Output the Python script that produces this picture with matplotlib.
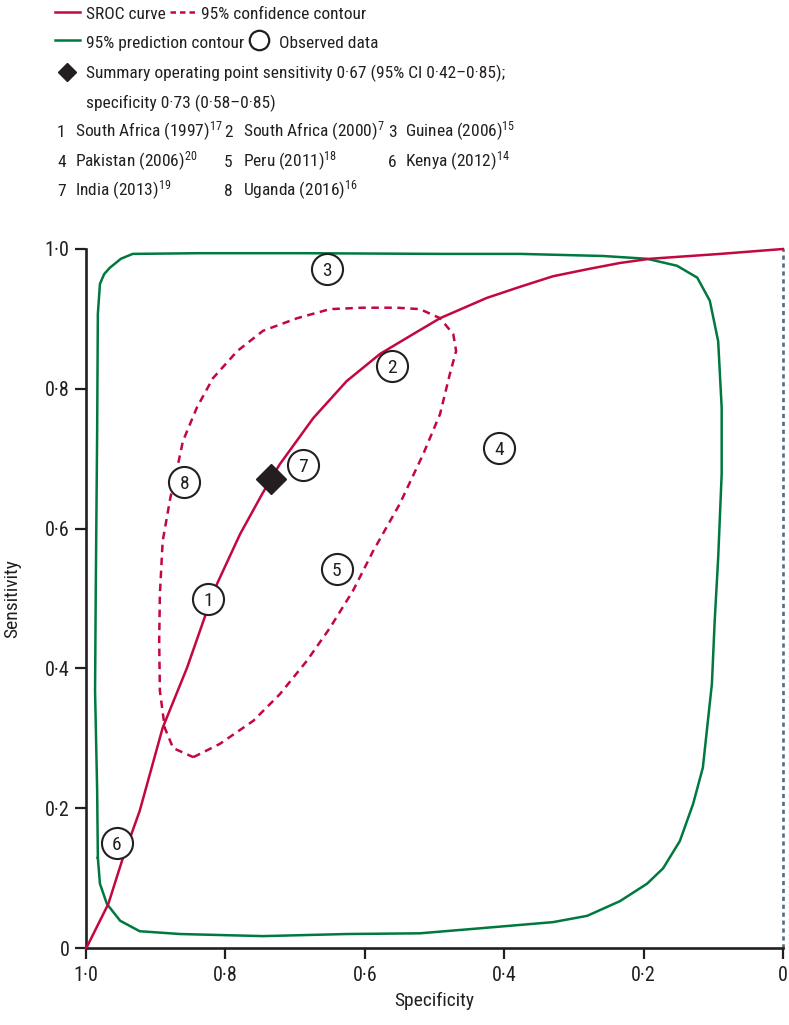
# -*- coding: utf-8 -*-
"""
SROC curve with 95% confidence and prediction contours
"""
import matplotlib
matplotlib.use("Agg")
import matplotlib.pyplot as plt
from matplotlib import font_manager
from matplotlib.lines import Line2D

# pick the narrowest installed family
names = {f.name for f in font_manager.fontManager.ttflist}
condensed = {f.name for f in font_manager.fontManager.ttflist
             if "condensed" in str(f.stretch) or "narrow" in f.name.lower()}
FONT, STRETCH = "Roboto", "normal"
for cand in ["Liberation Sans Narrow", "Roboto Condensed",
             "Open Sans Condensed", "Noto Sans Condensed"]:
    if cand in names:
        FONT = cand
        break
else:
    if "DejaVu Sans" in condensed:
        FONT, STRETCH = "DejaVu Sans", "condensed"

SIZE = 12.5        # legend text
TICK_SIZE = 14.5   # tick labels
LABEL_SIZE = 14    # axis titles

plt.rcParams["font.family"] = [FONT, "DejaVu Sans"]
plt.rcParams["font.stretch"] = STRETCH
plt.rcParams["font.size"] = SIZE
plt.rcParams["mathtext.fontset"] = "custom"
plt.rcParams["mathtext.rm"] = FONT
plt.rcParams["mathtext.it"] = FONT

RED = "#c3073f"
GREEN = "#00793f"
INK = "#231f20"
GREYBLUE = "#4f6f7e"

# Data
# SROC curve
sroc_spec = [1.0, 0.999, 0.968, 0.947, 0.923, 0.890, 0.855, 0.828, 0.812,
             0.779, 0.747, 0.722, 0.674, 0.626, 0.578, 0.531, 0.492, 0.425,
             0.377, 0.330, 0.281, 0.234, 0.191, 0.090, 0.0]
sroc_sens = [0.0, 0.001, 0.063, 0.129, 0.196, 0.315, 0.401, 0.478, 0.521,
             0.592, 0.650, 0.692, 0.758, 0.811, 0.850, 0.878, 0.901, 0.930,
             0.946, 0.961, 0.971, 0.980, 0.986, 0.993, 1.0]

# 95% confidence contour
conf_spec = [0.846, 0.808, 0.760, 0.722, 0.683, 0.650, 0.617, 0.588, 0.550,
             0.516, 0.492, 0.478, 0.469, 0.473, 0.492, 0.521, 0.554, 0.603,
             0.650, 0.697, 0.746, 0.783, 0.818, 0.841, 0.861, 0.869, 0.879,
             0.890, 0.894, 0.895, 0.894, 0.887, 0.875, 0.846]
conf_sens = [0.273, 0.292, 0.325, 0.363, 0.411, 0.458, 0.511, 0.568, 0.635,
             0.707, 0.764, 0.821, 0.854, 0.878, 0.901, 0.914, 0.916, 0.916,
             0.914, 0.901, 0.883, 0.854, 0.815, 0.773, 0.725, 0.687, 0.644,
             0.582, 0.506, 0.439, 0.368, 0.315, 0.286, 0.273]

# 95% prediction contour
pred_spec = [0.983, 0.984, 0.987, 0.986, 0.984, 0.983, 0.980, 0.974, 0.966,
             0.950, 0.933, 0.836, 0.693, 0.492, 0.377, 0.258, 0.195, 0.152,
             0.123, 0.105, 0.093, 0.088, 0.088, 0.093, 0.098, 0.102, 0.115,
             0.129, 0.148, 0.172, 0.195, 0.234, 0.281, 0.330, 0.425, 0.521,
             0.626, 0.746, 0.865, 0.923, 0.951, 0.970, 0.980, 0.983]
pred_sens = [0.129, 0.225, 0.368, 0.511, 0.740, 0.907, 0.950, 0.964, 0.973,
             0.986, 0.993, 0.994, 0.994, 0.993, 0.993, 0.990, 0.986, 0.976,
             0.959, 0.926, 0.868, 0.773, 0.678, 0.558, 0.468, 0.378, 0.258,
             0.206, 0.153, 0.114, 0.092, 0.067, 0.046, 0.037, 0.029, 0.021,
             0.020, 0.017, 0.020, 0.024, 0.039, 0.063, 0.092, 0.129]

# Observed studies
study_ids = [1, 2, 3, 4, 5, 6, 7, 8]
study_names = ["South Africa (1997)", "South Africa (2000)", "Guinea (2006)",
               "Pakistan (2006)", "Peru (2011)", "Kenya (2012)",
               "India (2013)", "Uganda (2016)"]
study_refs = [17, 7, 15, 20, 18, 14, 19, 16]
obs_spec = [0.825, 0.561, 0.654, 0.407, 0.640, 0.956, 0.689, 0.859]
obs_sens = [0.499, 0.833, 0.972, 0.715, 0.542, 0.150, 0.691, 0.667]

# Summary operating point
summary_spec = 0.735
summary_sens = 0.671

ticks = [1.0, 0.8, 0.6, 0.4, 0.2, 0.0]
tick_labels = ["1·0", "0·8", "0·6", "0·4", "0·2", "0"]

W, H = 789, 1025


def fx(px):
    return px / W


def fy(py):
    return 1 - py / H


# Plotting
fig = plt.figure(figsize=(W / 100, H / 100), dpi=100)
ax = fig.add_axes([fx(86), fy(948), 697 / W, 699 / H])

ax.axvline(0, color=GREYBLUE, lw=1.9, ls=(0, (1.6, 1.4)), clip_on=False,
           zorder=1)
ax.plot(pred_spec, pred_sens, color=GREEN, lw=1.8, zorder=2)
ax.plot(conf_spec, conf_sens, color=RED, lw=1.8, ls=(0, (3.0, 2.2)),
        zorder=3)
ax.plot(sroc_spec, sroc_sens, color=RED, lw=1.8, clip_on=False, zorder=4)

ax.scatter(obs_spec, obs_sens, s=500, facecolor="white", edgecolor=INK,
           linewidth=1.5, zorder=5)
for i, xs, ys in zip(study_ids, obs_spec, obs_sens):
    ax.annotate(str(i), (xs, ys), xytext=(0, -0.36 * 14),
                textcoords="offset points", ha="center", va="baseline",
                color=INK, fontsize=14, zorder=6)
ax.plot([summary_spec], [summary_sens], marker="D", ms=15, color=INK,
        ls="none", zorder=7)

ax.set_xlim(1, 0)
ax.set_ylim(0, 1)
ax.set_xticks(ticks)
ax.set_xticklabels(tick_labels)
ax.set_yticks(ticks)
ax.set_yticklabels(tick_labels)
for side in ["top", "right"]:
    ax.spines[side].set_visible(False)
for side in ["left", "bottom"]:
    ax.spines[side].set_linewidth(1.9)
    ax.spines[side].set_color(INK)
ax.tick_params(direction="out", length=8, width=1.6, color=INK,
               labelcolor=INK, labelsize=TICK_SIZE)
ax.tick_params(axis="x", pad=5)
ax.tick_params(axis="y", pad=4)

ax.set_xlabel("Specificity", color=INK, va="center", fontsize=LABEL_SIZE)
ax.xaxis.set_label_coords(0.5, (947 - 1000) / 699)
ax.set_ylabel("Sensitivity", color=INK, va="center", fontsize=LABEL_SIZE)
ax.yaxis.set_label_coords((12 - 86) / 697, 0.5)

# Legend block above the plot
def key_line(x0, x1, y, **kw):
    fig.add_artist(Line2D([fx(x0), fx(x1)], [fy(y), fy(y)],
                          transform=fig.transFigure, **kw))


key_line(55, 80, 12, color=RED, lw=1.8)
fig.text(fx(86), fy(19), "SROC curve", va="baseline", color=INK)
key_line(170, 196, 12, color=RED, lw=1.8, ls=(0, (2.2, 1.6)))
fig.text(fx(201), fy(19), "95% confidence contour", va="baseline",
         color=INK)

key_line(55, 80, 40, color=GREEN, lw=1.8)
fig.text(fx(86), fy(48), "95% prediction contour", va="baseline", color=INK)
fig.add_artist(Line2D([fx(259)], [fy(40)], marker="o", ms=14,
                      mfc="white", mec=INK, mew=1.6,
                      transform=fig.transFigure))
fig.text(fx(279), fy(48), "Observed data", va="baseline", color=INK)

fig.add_artist(Line2D([fx(67)], [fy(72)], marker="D", ms=9, color=INK,
                      transform=fig.transFigure))
fig.text(fx(86), fy(78),
         "Summary operating point sensitivity 0·67 (95% CI 0·42–0·85);",
         va="baseline", color=INK)
fig.text(fx(86), fy(108), "specificity 0·73 (0·58–0·85)", va="baseline",
         color=INK)

col_num_x = [57, 224, 388]
col_name_x = [75, 243, 405]
row_base_y = [137, 167, 196]
for k, (i, name, ref) in enumerate(zip(study_ids, study_names, study_refs)):
    r, c = divmod(k, 3)
    fig.text(fx(col_num_x[c]), fy(row_base_y[r]), str(i), va="baseline",
             color=INK)
    fig.text(fx(col_name_x[c]), fy(row_base_y[r]),
             name + r"$^{%d}$" % ref, va="baseline", color=INK)

fig.savefig("out.png", dpi=100)
